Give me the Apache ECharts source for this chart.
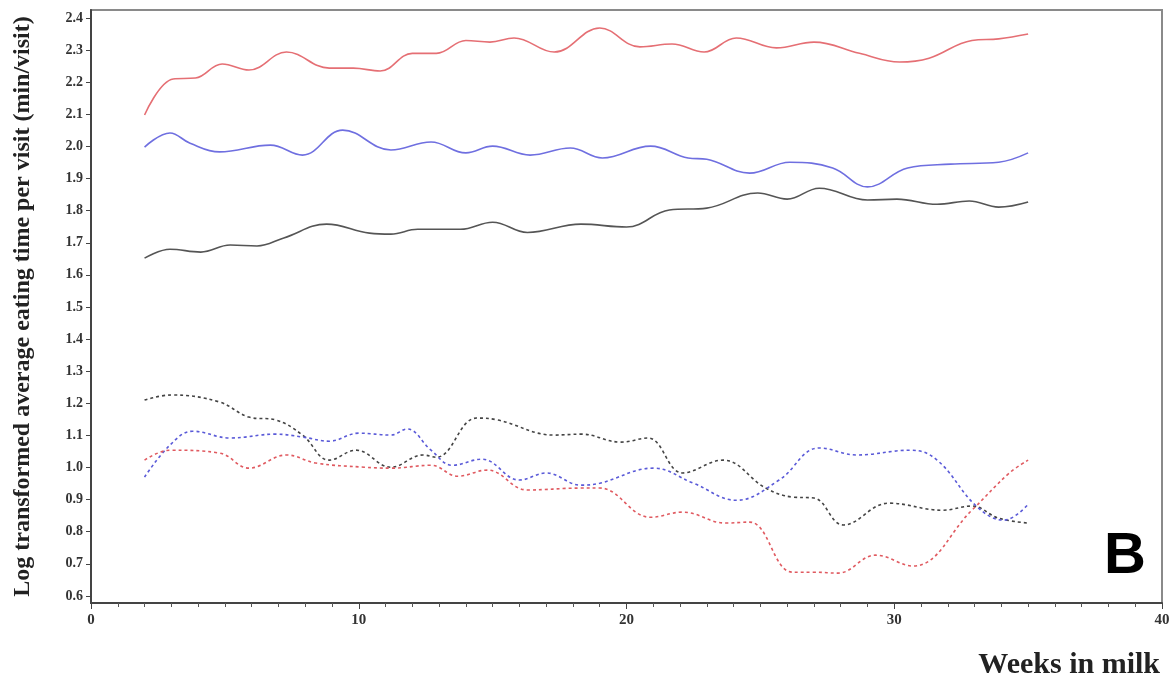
<!DOCTYPE html>
<html>
<head>
<meta charset="utf-8">
<script src="https://cdn.jsdelivr.net/npm/echarts@6/dist/echarts.min.js"></script>
<style>
  html, body { margin: 0; padding: 0; background: #fff; }
  #chart { width: 1174px; height: 686px; }
</style>
</head>
<body>
<div id="chart"></div>
<script>
// [week, log eating time]
const solidRed = [[2.0,2.098],[3.07,2.21],[3.9,2.213],[4.9,2.257],[5.9,2.238],[7.3,2.294],[8.9,2.244],[9.8,2.244],[10.8,2.235],[12.0,2.29],[12.9,2.29],[14.0,2.33],[14.9,2.325],[15.8,2.338],[17.3,2.294],[19.0,2.369],[20.5,2.31],[21.7,2.319],[22.9,2.294],[24.1,2.338],[25.6,2.307],[27.0,2.325],[28.7,2.29],[30.2,2.263],[31.3,2.275],[32.9,2.33],[33.9,2.335],[35.0,2.35]];
const solidBlue = [[2.0,1.998],[2.95,2.042],[3.7,2.01],[4.8,1.983],[6.7,2.004],[7.9,1.973],[9.4,2.051],[11.2,1.989],[12.7,2.014],[14.0,1.98],[15.0,2.001],[16.4,1.973],[17.9,1.995],[19.1,1.964],[20.9,2.001],[22.3,1.964],[23.0,1.96],[24.6,1.917],[26.1,1.951],[27.7,1.933],[29.0,1.874],[30.5,1.933],[32.1,1.945],[33.9,1.951],[35.0,1.98]];
const solidBlack = [[2.0,1.652],[2.95,1.68],[4.1,1.671],[5.2,1.693],[6.2,1.69],[7.2,1.715],[8.8,1.758],[10.4,1.73],[11.2,1.727],[12.2,1.742],[13.8,1.742],[15.0,1.764],[16.3,1.732],[18.3,1.758],[20.0,1.749],[21.6,1.802],[23.0,1.808],[24.9,1.855],[26.0,1.836],[27.2,1.87],[29.0,1.833],[30.1,1.836],[31.6,1.82],[32.8,1.83],[33.9,1.811],[35.0,1.827]];
const dashBlack = [[2.0,1.21],[3.0,1.226],[4.8,1.204],[5.9,1.157],[6.9,1.148],[7.9,1.101],[8.9,1.023],[9.9,1.054],[11.2,1.001],[12.4,1.039],[12.9,1.032],[14.4,1.154],[15.2,1.148],[17.3,1.101],[18.3,1.104],[19.8,1.079],[20.8,1.092],[22.1,0.983],[23.6,1.023],[25.2,0.936],[26.2,0.908],[27.0,0.905],[28.1,0.821],[29.8,0.889],[31.8,0.867],[32.9,0.88],[33.9,0.842],[35.0,0.827]];
const dashBlue = [[2.0,0.97],[2.95,1.07],[3.8,1.113],[5.2,1.092],[6.9,1.104],[7.9,1.095],[8.9,1.082],[10.0,1.107],[11.2,1.101],[11.8,1.12],[12.7,1.054],[13.5,1.007],[14.6,1.026],[16.0,0.961],[17.0,0.983],[18.3,0.945],[19.0,0.951],[21.0,0.998],[22.5,0.951],[24.1,0.898],[25.7,0.961],[27.2,1.061],[28.6,1.039],[30.6,1.054],[31.6,1.023],[33.1,0.877],[34.1,0.836],[35.0,0.885]];
const dashRed = [[2.0,1.023],[2.95,1.054],[4.8,1.045],[5.9,0.998],[7.3,1.039],[8.4,1.014],[10.2,1.001],[11.2,0.998],[12.7,1.007],[13.7,0.973],[14.8,0.992],[16.3,0.93],[18.3,0.936],[19.0,0.936],[20.9,0.845],[22.1,0.861],[23.7,0.827],[24.6,0.83],[26.2,0.674],[27.0,0.674],[27.9,0.671],[29.3,0.727],[30.7,0.693],[32.9,0.867],[34.3,0.983],[35.0,1.023]];

const xTicks = [0, 10, 20, 30, 40];
const yTicks = [0.6, 0.7, 0.8, 0.9, 1.0, 1.1, 1.2, 1.3, 1.4, 1.5, 1.6, 1.7, 1.8, 1.9, 2.0, 2.1, 2.2, 2.3, 2.4];

const serif = "'Liberation Serif', 'DejaVu Serif', serif";

function line(name, data, color, dashed) {
  return {
    name: name,
    type: 'line',
    data: data,
    smooth: 0.4,
    symbol: 'none',
    lineStyle: dashed
      ? { color: color, width: 1.6, type: [3, 3] }
      : { color: color, width: 1.6 }
  };
}

const chart = echarts.init(document.getElementById('chart'));
chart.setOption({
  animation: false,
  backgroundColor: '#fff',
  grid: {
    left: 91, right: 12, top: 10, bottom: 83,
    show: true, borderColor: '#8a8a8a', borderWidth: 2
  },
  xAxis: {
    type: 'value',
    min: xTicks[0],
    max: xTicks[xTicks.length - 1],
    interval: 10,
    splitLine: { show: false },
    axisLine: { lineStyle: { color: '#444', width: 2 } },
    axisTick: { inside: false, length: 6, lineStyle: { color: '#444' } },
    minorTick: { show: true, splitNumber: 10, length: 4, lineStyle: { color: '#555' } },
    axisLabel: {
      margin: 10, color: '#333', fontFamily: serif, fontWeight: 'bold', fontSize: 15
    }
  },
  yAxis: {
    type: 'value',
    min: 0.578,
    max: 2.425,
    splitNumber: 18,
    splitLine: { show: false },
    axisLine: { lineStyle: { color: '#444', width: 2 } },
    axisTick: {
      length: 5, lineStyle: { color: '#444' },
      customValues: yTicks
    },
    axisLabel: {
      margin: 8, color: '#333', fontFamily: serif, fontWeight: 'bold', fontSize: 14,
      customValues: yTicks,
      formatter: function (v) { return v.toFixed(1); }
    },
    name: 'Log transformed average eating time per visit (min/visit)',
    nameLocation: 'middle',
    nameRotate: 90,
    nameGap: 56,
    nameTextStyle: { color: '#222', fontFamily: serif, fontWeight: 'bold', fontSize: 24 }
  },
  graphic: [
    {
      type: 'text', right: 14, top: 650,
      style: { text: 'Weeks in milk', fill: '#222', font: 'bold 30px ' + serif }
    },
    {
      type: 'text', right: 28, top: 528,
      style: { text: 'B', fill: '#000', font: "bold 58px 'Liberation Sans', Arial, sans-serif" }
    }
  ],
  series: [
    line('solid red', solidRed, '#e56f74', false),
    line('solid blue', solidBlue, '#6f6fe0', false),
    line('solid black', solidBlack, '#555', false),
    line('dashed black', dashBlack, '#444', true),
    line('dashed blue', dashBlue, '#5a5ad8', true),
    line('dashed red', dashRed, '#e05a60', true)
  ]
});
</script>
</body>
</html>
